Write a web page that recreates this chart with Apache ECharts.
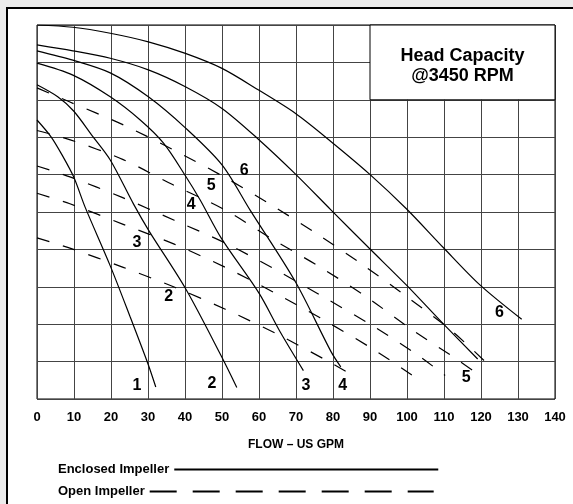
<!DOCTYPE html>
<html>
<head>
<meta charset="utf-8">
<title>Head Capacity @3450 RPM</title>
<script src="https://cdn.jsdelivr.net/npm/echarts@6/dist/echarts.min.js"></script>
<style>
  html, body { margin: 0; padding: 0; background: #ececec; overflow: hidden; }
  #frame { position: absolute; left: 6px; top: 7px; width: 700px; height: 700px; background: #fff; border-left: 2px solid #000; border-top: 2px solid #000; }
  #main { position: absolute; left: 0; top: 0; width: 573px; height: 504px; }
</style>
</head>
<body>
<div id="frame"></div>
<div id="main"></div>
<script>
// enclosed impeller curves, [flow US GPM, head] (head axis has no labels, 0-100)
var enclosed1 = [[0,74.6],[3.8,70.1],[6.8,65.2],[9.9,59.4],[13.0,51.3],[19.8,35.6],[25.2,21.9],[30.1,9.1],[32.1,3.2]];
var enclosed2 = [[0,84.0],[5.6,80.8],[9.9,77.0],[15.0,70.3],[19.8,63.9],[26.1,52.1],[30.3,44.9],[40.1,29.6],[49.8,11.5],[54.0,3.1]];
var enclosed3 = [[0,89.8],[9.7,86.6],[19.8,80.8],[27.9,74.6],[34.2,68.4],[40.1,59.7],[44.1,53.2],[49.8,43.0],[60.0,28.3],[65.7,18.0],[72.0,7.6]];
var enclosed4 = [[0,93.1],[9.7,90.6],[19.8,87.2],[30.1,80.8],[40.1,72.5],[50.0,62.6],[57.6,50.5],[69.8,31.4],[79.5,12.6],[82.1,8.6]];
var enclosed5 = [[0,94.7],[9.7,93.1],[19.8,91.1],[30.1,88.0],[40.1,83.5],[50.0,77.7],[59.9,69.4],[69.8,60.2],[79.5,50.5],[89.8,40.3],[99.8,30.5],[109.7,20.2],[119.1,10.7]];
var enclosed6 = [[0,100],[9.7,99.4],[19.8,97.8],[30.1,95.5],[40.1,92.4],[50.0,88.4],[59.9,82.6],[69.8,76.4],[79.5,68.8],[89.8,60.2],[99.9,50.8],[109.8,40.5],[119.7,30.5],[131.0,21.3]];

// open impeller curves (dashed)
var open6 = [[0,83.2],[8.9,79.4],[22.9,73.5],[36.5,66.8],[50.0,59.7],[62.5,52.4],[75.4,44.3],[88.0,35.9],[100.3,27.1],[112.1,18.2],[122.4,8.8]];
var open5 = [[0,71.8],[9.0,69.3],[23.3,64.0],[36.5,57.4],[50.9,50.5],[63.5,42.8],[76.3,35.4],[88.9,27.4],[101.1,18.7],[113.8,10.4],[119.2,6.6]];
var open4 = [[0,62.3],[8.9,59.4],[23.0,53.9],[37.1,47.8],[50.9,41.7],[64.1,34.8],[77.2,27.4],[90.3,19.8],[102.5,12.0],[110.3,6.3]];
var open3 = [[0,55.0],[8.9,52.2],[23.3,46.7],[37.1,41.4],[50.9,35.2],[64.4,28.3],[76.5,21.7],[90.7,13.4],[102.7,5.5]];
var open2 = [[0,43.1],[9.3,40.2],[23.3,35.2],[37.4,29.8],[50.9,24.0],[65.0,17.3],[78.1,10.4],[84.1,7.0]];

// curve numbers
var openLabels = [[56.0,61.2,'6'],[47.1,57.0,'5'],[41.7,51.9,'4'],[27.0,41.7,'3'],[35.6,27.4,'2']];
var enclosedLabels = [[27.0,3.7,'1'],[47.3,4.1,'2'],[72.7,3.7,'3'],[82.6,3.7,'4'],[116.0,5.6,'5'],[125.0,23.1,'6']];

var titleText = 'Head Capacity\n@3450 RPM';
var font = '"Liberation Sans", Arial, sans-serif';

var myChart = echarts.init(document.getElementById('main'));

function solid(data) {
	return {
		name: 'Enclosed Impeller',
		type: 'line',
		data: data,
		smooth: 0.3,
		symbol: 'none',
		silent: true,
		z: 3,
		itemStyle: { color: '#000' },
		lineStyle: { color: '#000', width: 1.2 }
	};
}

function dashed(data) {
	return {
		name: 'Open Impeller',
		type: 'line',
		data: data,
		smooth: 0.3,
		symbol: 'none',
		silent: true,
		z: 2,
		itemStyle: { color: '#000' },
		lineStyle: { color: '#000', width: 1.2, type: [13, 14] }
	};
}

var series = [
	dashed(open6), dashed(open5), dashed(open4), dashed(open3), dashed(open2),
	solid(enclosed1), solid(enclosed2), solid(enclosed3), solid(enclosed4), solid(enclosed5), solid(enclosed6),
	{
		name: 'labels',
		type: 'scatter',
		data: openLabels.concat(enclosedLabels),
		symbol: 'circle',
		symbolSize: 0,
		silent: true,
		z: 5,
		itemStyle: { color: '#000' },
		label: {
			show: true,
			position: 'inside',
			formatter: function (p) { return p.data[2]; },
			fontFamily: font,
			fontSize: 16,
			fontWeight: 'bold',
			color: '#000',
			textBorderWidth: 0,
			opacity: 1
		},
		// title box, covers the grid in the top right corner
		markArea: {
			silent: true,
			itemStyle: { color: '#fff', opacity: 1, borderColor: '#000', borderWidth: 1 },
			label: {
				show: true,
				position: 'inside',
				formatter: titleText,
				fontFamily: font,
				fontSize: 18,
				fontWeight: 'bold',
				color: '#000',
				lineHeight: 20,
				offset: [0, 4]
			},
			data: [[{ coord: [90, 80] }, { coord: [140, 100] }]]
		}
	}
];

var legendText = { fontFamily: font, fontSize: 13, fontWeight: 'bold', color: '#000' };
// hide the dot that line legends put in the middle
var noDot = { opacity: 0, color: 'rgba(0,0,0,0)', borderWidth: 0 };

var option = {
	animation: false,
	textStyle: { fontFamily: font },
	grid: {
		left: 37, top: 25, right: 18, bottom: 105,
		show: true, backgroundColor: '#fff', borderColor: '#000', borderWidth: 1
	},
	legend: [{
		data: [{ name: 'Enclosed Impeller', itemStyle: noDot, lineStyle: { color: '#000', width: 2, type: 'solid' } }],
		left: 58, top: 463, padding: 0,
		align: 'right', itemWidth: 264, itemHeight: 14,
		selectedMode: false,
		textStyle: legendText
	}, {
		data: [{ name: 'Open Impeller', itemStyle: noDot, lineStyle: { color: '#000', width: 2, type: [27, 16] } }],
		left: 58, top: 485, padding: 0,
		align: 'right', itemWidth: 284, itemHeight: 14,
		selectedMode: false,
		textStyle: legendText
	}],
	xAxis: {
		type: 'value',
		min: 0, max: 140, interval: 10,
		name: 'FLOW – US GPM',
		nameLocation: 'middle',
		nameGap: 40,
		nameTextStyle: { fontFamily: font, fontSize: 12, fontWeight: 'bold', color: '#000' },
		axisLine: { show: false },
		axisTick: { show: false },
		axisLabel: { margin: 12, fontFamily: font, fontSize: 13, fontWeight: 'bold', color: '#000' },
		splitLine: { show: true, lineStyle: { color: '#444', width: 1 } }
	},
	yAxis: {
		type: 'value',
		min: 0, max: 100, interval: 10,
		axisLine: { show: false },
		axisTick: { show: false },
		axisLabel: { show: false },
		splitLine: { show: true, lineStyle: { color: '#444', width: 1 } }
	},
	series: series
};

myChart.setOption(option);
</script>
</body>
</html>
